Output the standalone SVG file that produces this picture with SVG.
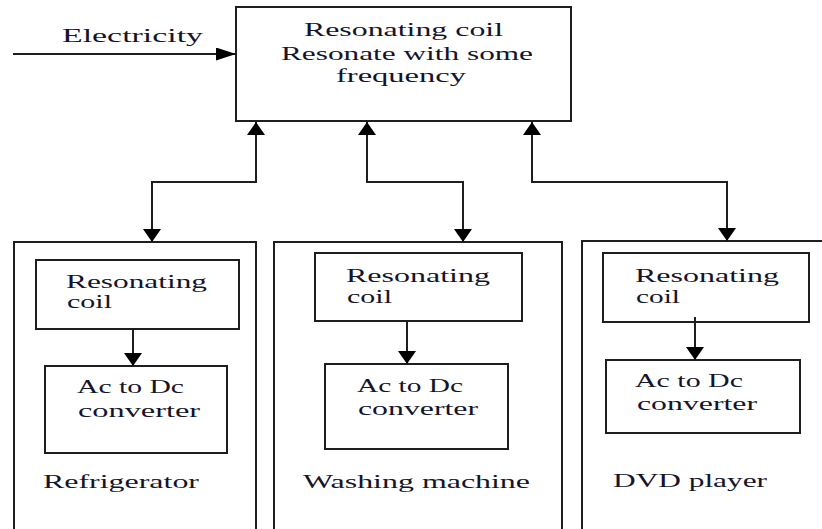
<svg xmlns="http://www.w3.org/2000/svg" width="822" height="529" viewBox="0 0 822 529">
<style>
.box{fill:#fff;stroke:#1e1e1e;stroke-width:2}
.t{font-size:19px;fill:#14142a}
.c{fill:none;stroke:#1e1e1e;stroke-width:2}
</style>
<defs>
<marker id="av" markerUnits="userSpaceOnUse" viewBox="0 0 13 18" markerWidth="13" markerHeight="18" refX="13" refY="9" orient="auto-start-reverse">
<path d="M0,0 L13,9 L0,18 z" fill="#000"/>
</marker>
<marker id="ah" markerUnits="userSpaceOnUse" viewBox="0 0 20 13" markerWidth="20" markerHeight="13" refX="20" refY="6.5" orient="auto">
<path d="M0,0 L20,6.5 L0,13 z" fill="#000"/>
</marker>
</defs>
<rect width="822" height="529" fill="#fff"/>
<g font-family="Liberation Serif, DejaVu Serif, serif">
<g id="source">
<rect class="box" x="236" y="7" width="335" height="114"/>
<text class="t" x="304" y="36" textLength="199" lengthAdjust="spacingAndGlyphs">Resonating coil</text>
<text class="t" x="281" y="60" textLength="252" lengthAdjust="spacingAndGlyphs">Resonate with some</text>
<text class="t" x="336" y="82" textLength="130" lengthAdjust="spacingAndGlyphs">frequency</text>
</g>
<g id="electricity">
<text class="t" x="62" y="42" textLength="141" lengthAdjust="spacingAndGlyphs">Electricity</text>
</g>
<g id="refrigerator">
<rect class="box" x="14" y="242" width="242" height="300"/>
<text class="t" x="43" y="488" textLength="156" lengthAdjust="spacingAndGlyphs">Refrigerator</text>
</g>
<g id="fridge-coil">
<rect class="box" x="36" y="260" width="203" height="69"/>
<text class="t" x="66" y="288" textLength="141" lengthAdjust="spacingAndGlyphs">Resonating</text>
<text class="t" x="67" y="308" textLength="45" lengthAdjust="spacingAndGlyphs">coil</text>
</g>
<g id="fridge-conv">
<rect class="box" x="45" y="366" width="182" height="87"/>
<text class="t" x="77" y="393" textLength="107" lengthAdjust="spacingAndGlyphs">Ac to Dc</text>
<text class="t" x="78" y="417" textLength="122" lengthAdjust="spacingAndGlyphs">converter</text>
</g>
<g id="washing">
<rect class="box" x="274" y="242" width="288" height="300"/>
<text class="t" x="303" y="488" textLength="227" lengthAdjust="spacingAndGlyphs">Washing machine</text>
</g>
<g id="wash-coil">
<rect class="box" x="315" y="253" width="207" height="68"/>
<text class="t" x="346" y="282" textLength="144" lengthAdjust="spacingAndGlyphs">Resonating</text>
<text class="t" x="347" y="303" textLength="45" lengthAdjust="spacingAndGlyphs">coil</text>
</g>
<g id="wash-conv">
<rect class="box" x="325" y="364" width="183" height="85"/>
<text class="t" x="357" y="392" textLength="106" lengthAdjust="spacingAndGlyphs">Ac to Dc</text>
<text class="t" x="358" y="415" textLength="120" lengthAdjust="spacingAndGlyphs">converter</text>
</g>
<g id="dvd">
<rect class="box" x="582" y="241" width="260" height="300"/>
<text class="t" x="613" y="487" textLength="154" lengthAdjust="spacingAndGlyphs">DVD player</text>
</g>
<g id="dvd-coil">
<rect class="box" x="603" y="253" width="206" height="69"/>
<text class="t" x="635" y="282" textLength="144" lengthAdjust="spacingAndGlyphs">Resonating</text>
<text class="t" x="636" y="303" textLength="44" lengthAdjust="spacingAndGlyphs">coil</text>
</g>
<g id="dvd-conv">
<rect class="box" x="606" y="360" width="194" height="73"/>
<text class="t" x="635" y="387" textLength="108" lengthAdjust="spacingAndGlyphs">Ac to Dc</text>
<text class="t" x="637" y="410" textLength="120" lengthAdjust="spacingAndGlyphs">converter</text>
</g>
</g>
<g id="connectors">
<path class="c" d="M13,54 H236" marker-end="url(#ah)"/>
<path class="c" d="M256,122 V182 H152 V242" marker-start="url(#av)" marker-end="url(#av)"/>
<path class="c" d="M367,122 V182 H463 V242" marker-start="url(#av)" marker-end="url(#av)"/>
<path class="c" d="M532,122 V182 H727 V241" marker-start="url(#av)" marker-end="url(#av)"/>
<path class="c" d="M133,330 V366" marker-end="url(#av)"/>
<path class="c" d="M407,322 V364" marker-end="url(#av)"/>
<path class="c" d="M695,317 V360" marker-end="url(#av)"/>
</g>
</svg>
